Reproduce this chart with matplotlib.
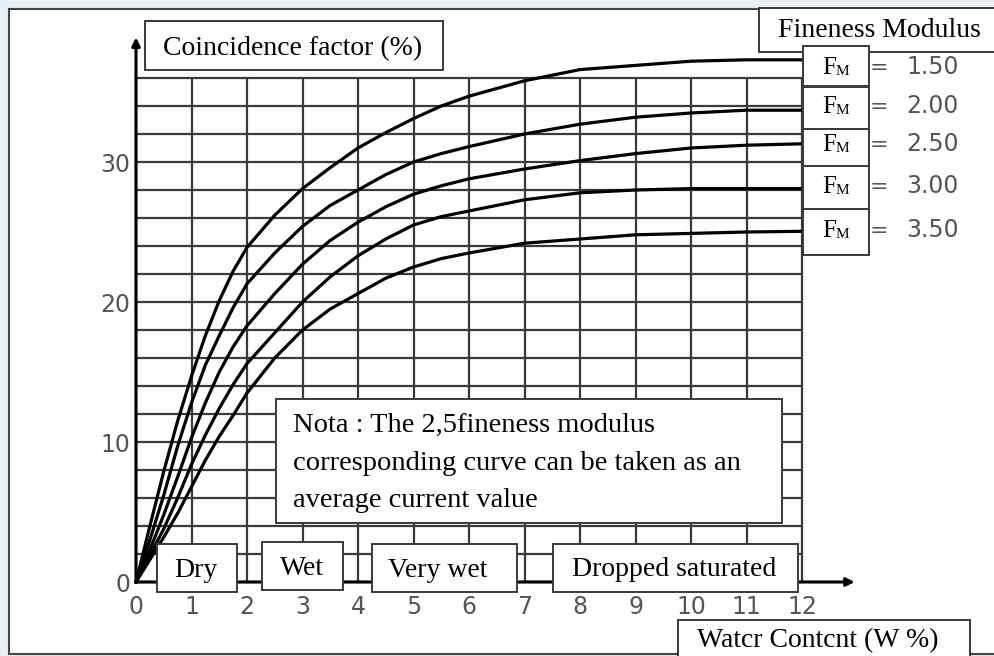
import matplotlib
matplotlib.use('Agg')
import matplotlib.pyplot as plt
from matplotlib.patches import Rectangle

W, H = 994, 656

# water content (W %) and coincidence factor (%)
water = [0, 0.25, 0.5, 0.75, 1, 1.25, 1.5, 1.75, 2, 2.5, 3, 3.5, 4, 4.5,
         5, 5.5, 6, 7, 8, 9, 10, 11, 12]
cf_150 = [0, 4.0, 7.9, 11.5, 14.7, 17.6, 20.1, 22.2, 23.9, 26.2, 28.1, 29.6,
          31.0, 32.1, 33.1, 34.0, 34.7, 35.8, 36.6, 36.9, 37.2, 37.3, 37.3]
cf_200 = [0, 3.0, 6.2, 9.7, 12.8, 15.5, 17.6, 19.6, 21.3, 23.5, 25.4, 26.9,
          28.0, 29.1, 30.0, 30.6, 31.1, 32.0, 32.7, 33.2, 33.5, 33.7, 33.7]
cf_250 = [0, 2.3, 4.8, 7.5, 10.3, 12.8, 15.0, 16.8, 18.3, 20.6, 22.7, 24.4,
          25.7, 26.8, 27.7, 28.3, 28.8, 29.5, 30.1, 30.6, 31.0, 31.2, 31.3]
cf_300 = [0, 1.9, 3.8, 6.0, 8.4, 10.5, 12.4, 14.1, 15.6, 17.8, 20.0, 21.8,
          23.3, 24.5, 25.5, 26.1, 26.5, 27.3, 27.8, 28.0, 28.1, 28.1, 28.1]
cf_350 = [0, 1.6, 3.2, 4.9, 6.8, 8.7, 10.4, 11.9, 13.5, 16.0, 18.0, 19.5,
          20.6, 21.7, 22.5, 23.1, 23.5, 24.2, 24.5, 24.8, 24.9, 25.0, 25.05]
curves = [cf_150, cf_200, cf_250, cf_300, cf_350]
fm_labels = ['1.50', '2.00', '2.50', '3.00', '3.50']

x_ticks = list(range(13))
y_ticks = [0, 10, 20, 30]
y_grid = list(range(0, 37, 2))

zones = ['Dry', 'Wet', 'Very wet', 'Dropped saturated']
nota = ['Nota : The 2,5fineness modulus',
        'corresponding curve can be taken as an',
        'average current value']

SERIF = 'Liberation Serif'
SANS = 'DejaVu Sans'
GRAY = '#555555'
EDGE = '#3a3a3a'

fig = plt.figure(figsize=(W / 100, H / 100), dpi=100)
fig.patch.set_facecolor('#e9eff8')


def fx(x):
    return x / W


def fy(y):
    return 1 - y / H


def box(x0, y0, x1, y1, z=2):
    fig.add_artist(Rectangle((fx(x0), fy(y1)), (x1 - x0) / W, (y1 - y0) / H,
                             transform=fig.transFigure, facecolor='white',
                             edgecolor=EDGE, lw=1.4, zorder=z))


def label(x, y, s, size=20, **kw):
    fig.text(fx(x), fy(y), s, family=SERIF, size=size, ha='left',
             va='baseline', zorder=4, **kw)


# white panel
fig.add_artist(Rectangle((fx(9), fy(654)), (1000 - 9) / W, (654 - 9) / H,
                         transform=fig.transFigure, facecolor='white',
                         edgecolor='#444444', lw=1.5, zorder=-5))

ax = fig.add_axes([fx(136), fy(582), 666 / W, 504 / H])
ax.set_xlim(0, 12)
ax.set_ylim(0, 36)
ax.patch.set_visible(False)
for s in ax.spines.values():
    s.set_visible(False)

ax.vlines(x_ticks, 0, 36, color=EDGE, lw=1.6, clip_on=False, zorder=1)
ax.hlines(y_grid, 0, 12, color=EDGE, lw=1.6, clip_on=False, zorder=1)

for c in curves:
    ax.plot(water, c, color='black', lw=2.3, clip_on=False, zorder=3,
            solid_joinstyle='round')

# axis arrows
ax.annotate('', xy=(12.95, 0), xytext=(0, 0), annotation_clip=False,
            arrowprops=dict(arrowstyle='-|>', lw=2.2, color='black',
                            mutation_scale=12, shrinkA=0, shrinkB=0))
ax.annotate('', xy=(0, 38.9), xytext=(0, 0), annotation_clip=False,
            arrowprops=dict(arrowstyle='-|>', lw=2.2, color='black',
                            mutation_scale=12, shrinkA=0, shrinkB=0))

ax.set_xticks(x_ticks)
ax.set_xticklabels([str(v) for v in x_ticks])
ax.set_yticks(y_ticks)
ax.set_yticklabels([str(v) for v in y_ticks])
ax.tick_params(length=0, labelsize=17, labelcolor=GRAY)
ax.tick_params(axis='x', pad=9)
ax.tick_params(axis='y', pad=4)
for t in ax.get_xticklabels() + ax.get_yticklabels():
    t.set_family(SANS)

# title boxes
box(145, 21, 443, 70)
label(163, 55, 'Coincidence factor (%)')
box(759, 8, 1000, 52)
label(778, 37, 'Fineness Modulus')
box(678, 620, 970, 660)
label(697, 647, 'Watcr Contcnt (W %)')

# fineness modulus legend boxes
fm_boxes = [(46, 86), (87, 129), (129, 166), (166, 209), (209, 255)]
fm_base = [74, 113, 151, 193, 237]
for (y0, y1), yb, lab in zip(fm_boxes, fm_base, fm_labels):
    box(803, y0, 869, y1)
    label(822, yb, 'F', size=18)
    label(836, yb + 1, 'M', size=11)
    fig.text(fx(870), fy(yb), '=', family=SANS, size=16, color=GRAY,
             ha='left', va='baseline', zorder=4)
    fig.text(fx(906), fy(yb), lab, family=SANS, size=17, color=GRAY,
             ha='left', va='baseline', zorder=4)

# nota box
box(276, 399, 782, 523)
for s, yb in zip(nota, [432, 470, 507]):
    label(293, yb, s, size=20.5)

# moisture zone boxes
zone_boxes = [(157, 544, 237, 592), (262, 542, 343, 590),
              (372, 544, 517, 592), (553, 544, 798, 592)]
zone_text = [(174, 577), (280, 575), (388, 577), (572, 576)]
for name, b, (tx, ty) in zip(zones, zone_boxes, zone_text):
    box(*b)
    label(tx, ty, name)

fig.savefig('out.png', dpi=100, facecolor=fig.get_facecolor())
